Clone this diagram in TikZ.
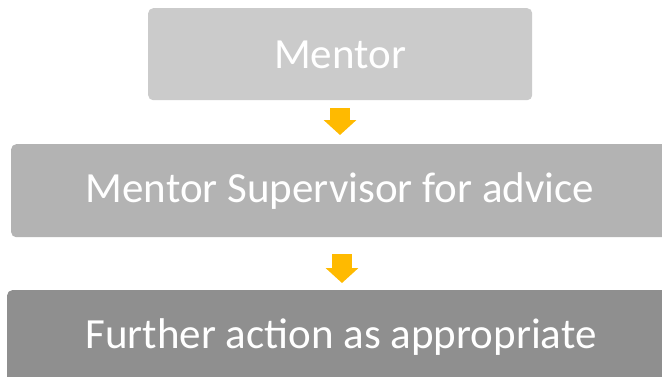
\documentclass[tikz,border=0pt]{standalone}
\usepackage{fontspec}
\setmainfont{Carlito}
\usetikzlibrary{arrows.meta}
\definecolor{boxA}{HTML}{CBCBCB}
\definecolor{boxB}{HTML}{B3B3B3}
\definecolor{boxC}{HTML}{8F8F8F}
\definecolor{flow}{HTML}{FFBA00}
\tikzset{
  stepbox/.style={draw=none, rounded corners=5pt, inner sep=0pt, anchor=north west},
  steptext/.style={text=white, inner sep=0pt, font=\fontsize{43}{50}\selectfont},
  flowarrow/.style={draw=flow, line width=20pt,
    -{Triangle[length=15pt, width=32pt]}}
}
\begin{document}
\begin{tikzpicture}[x=1pt, y=-1pt]
  \useasboundingbox (0,0) rectangle (662,376);
  \clip (0,0) rectangle (662,376);
  % step boxes
  \node[stepbox, fill=boxA, minimum width=384pt, minimum height=92pt] (b1) at (148,8) {};
  \node[stepbox, fill=boxB, minimum width=670pt, minimum height=93pt] (b2) at (11,144) {};
  \node[stepbox, fill=boxC, minimum width=670pt, minimum height=100pt] (b3) at (7,290) {};
  % step labels
  \node[steptext] (t1) at (340,55) {Mentor};
  \node[steptext] (t2) at (340,191) {Mentor Supervisor for advice};
  \node[steptext] (t3) at (341,337) {Further action as appropriate};
  % flow arrows between the steps
  \coordinate (a1) at (340,0);
  \coordinate (a2) at (342,0);
  \draw[flowarrow] (b1.south -| a1) ++(0,8) -- ([yshift=9pt]b2.north -| a1);
  \draw[flowarrow] (b2.south -| a2) ++(0,17) -- ([yshift=7pt]b3.north -| a2);
\end{tikzpicture}
\end{document}
